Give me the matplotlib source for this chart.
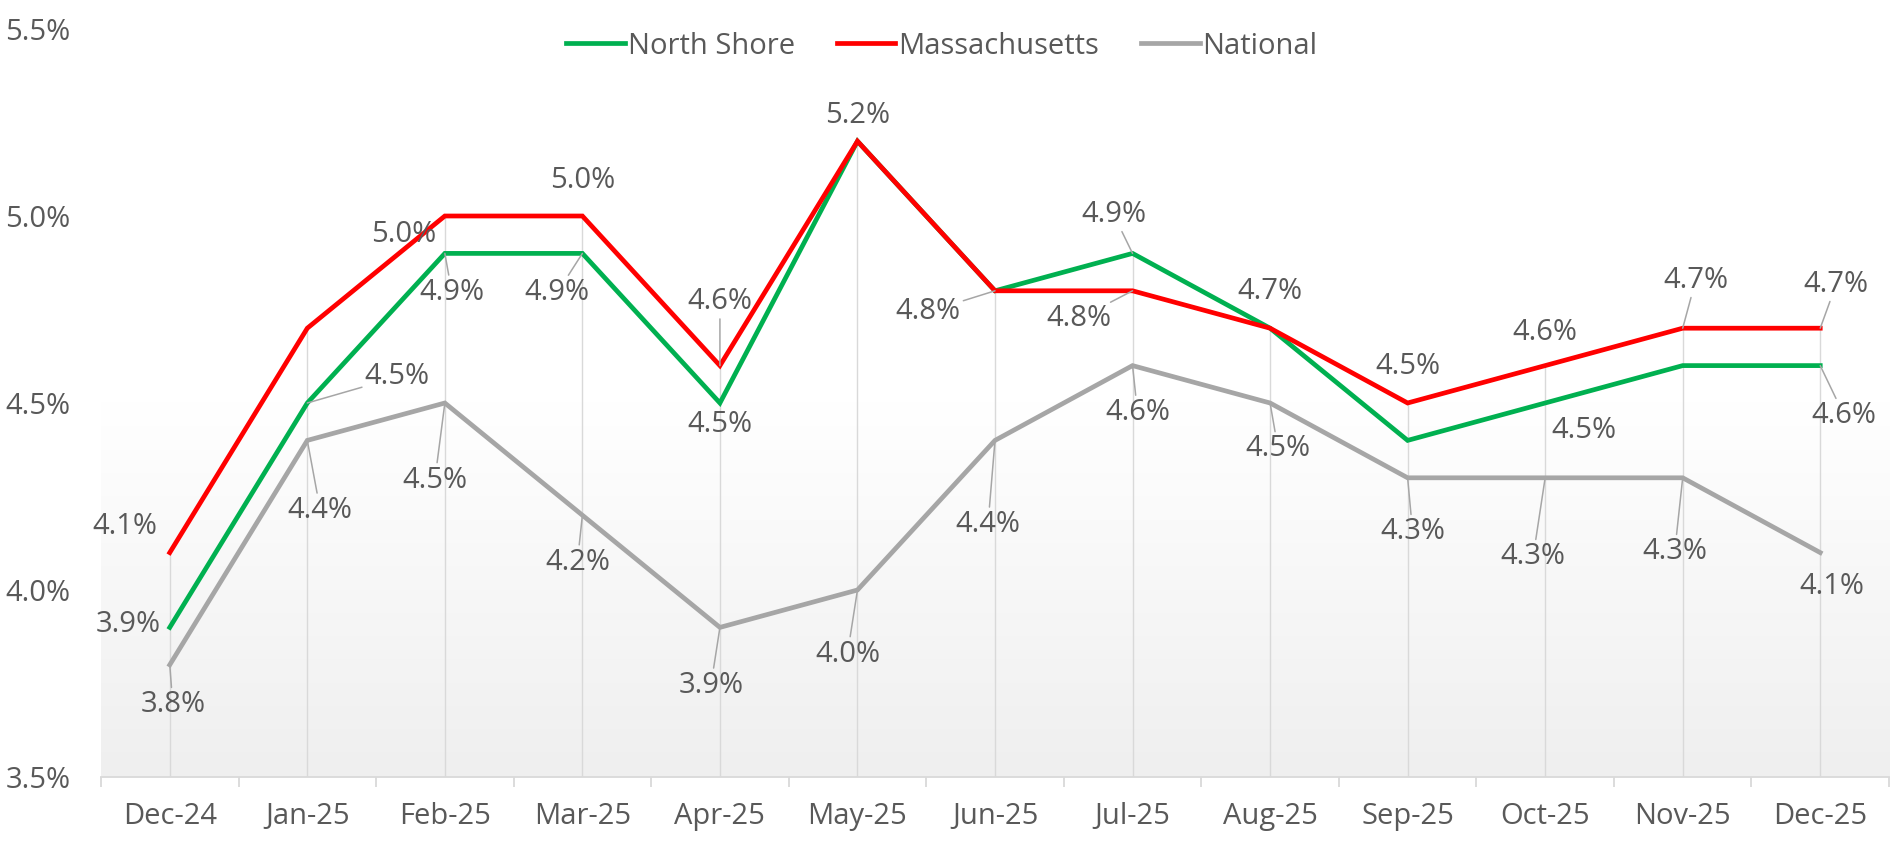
import numpy as np
import matplotlib
matplotlib.use("Agg")
import matplotlib.pyplot as plt
from matplotlib.colors import LinearSegmentedColormap

plt.rcParams['font.family'] = ['Open Sans', 'DejaVu Sans']

# data
months = ['Dec-24', 'Jan-25', 'Feb-25', 'Mar-25', 'Apr-25', 'May-25', 'Jun-25',
          'Jul-25', 'Aug-25', 'Sep-25', 'Oct-25', 'Nov-25', 'Dec-25']
north_shore = [3.9, 4.5, 4.9, 4.9, 4.5, 5.2, 4.8, 4.9, 4.7, 4.4, 4.5, 4.6, 4.6]
massachusetts = [4.1, 4.7, 5.0, 5.0, 4.6, 5.2, 4.8, 4.8, 4.7, 4.5, 4.6, 4.7, 4.7]
national = [3.8, 4.4, 4.5, 4.2, 3.9, 4.0, 4.4, 4.6, 4.5, 4.3, 4.3, 4.3, 4.1]

# label placement (offset in pixels, leader line) per point index
ns_labels = {0: (-42, 3, False), 1: (90, 26, True), 2: (7, -39, True), 3: (-25, -39, True),
             4: (0, -22, False), 6: (-67, -21, True), 7: (-19, 39, True),
             10: (39, -28, False), 12: (24, -50, True)}
ma_labels = {0: (-45, 26, False), 2: (-41, -18, False), 3: (0, 36, False), 4: (0, 64, True),
             5: (0, 26, False), 7: (-54, -28, True), 8: (0, 37, False), 9: (0, 36, False),
             10: (0, 33, False), 11: (13, 48, True), 12: (16, 44, True)}
nat_labels = {0: (3, -40, True), 1: (13, -70, True), 2: (-10, -77, True), 3: (-5, -47, True),
              4: (-9, -58, True), 5: (-10, -64, True), 6: (-7, -84, True), 7: (5, -47, True),
              8: (8, -46, True), 9: (5, -54, True), 10: (-12, -79, True), 11: (-8, -74, True),
              12: (12, -34, False)}

text_color = '#595959'
fs = 21

fig = plt.figure(figsize=(18.92, 8.43), dpi=100)
ax = fig.add_axes([101 / 1892, 1 - 777 / 843, (1889 - 101) / 1892, (777 - 29) / 843])

x = np.arange(len(months))
ax.set_xlim(-0.5, len(months) - 0.5)
ax.set_ylim(3.5, 5.5)

# gradient background, white at top
cmap = LinearSegmentedColormap.from_list('bg', ['#ffffff', '#ffffff', '#efefef'])
grad = np.linspace(0, 1, 256).reshape(-1, 1)
ax.imshow(grad, extent=[0, 1, 0, 1], origin='upper', transform=ax.transAxes,
          aspect='auto', cmap=cmap, zorder=0)

# drop lines
tops = np.maximum.reduce([north_shore, massachusetts, national])
ax.vlines(x, 3.5, tops, color='#d9d9d9', lw=1.0, zorder=1)

series = [('North Shore', north_shore, '#00b050', ns_labels),
          ('Massachusetts', massachusetts, '#ff0000', ma_labels),
          ('National', national, '#a6a6a6', nat_labels)]
for name, vals, col, labs in series:
    ax.plot(x, vals, color=col, lw=3.4, label=name, zorder=3, solid_joinstyle='miter')

for name, vals, col, labs in reversed(series):
    for i, (dx, dy, leader) in labs.items():
        arrow = dict(arrowstyle='-', color='#a6a6a6', lw=1.1, shrinkA=1, shrinkB=0) if leader else None
        ax.annotate(f'{vals[i]:.1f}%', xy=(x[i], vals[i]), xytext=(dx, dy),
                    textcoords='offset pixels', ha='center', va='center',
                    fontsize=fs, color=text_color, zorder=4,
                    bbox=dict(boxstyle='square,pad=0.05', fc='none', ec='none'),
                    arrowprops=arrow)

# axes styling
for s in ['top', 'right', 'left']:
    ax.spines[s].set_visible(False)
ax.spines['bottom'].set_color('#d9d9d9')
ax.spines['bottom'].set_linewidth(1.3)

ax.set_xticks(x)
ax.set_xticklabels(months)
ax.set_xticks(np.arange(-0.5, len(months)), minor=True)
ax.tick_params(axis='x', which='major', length=0, pad=18, labelsize=fs, labelcolor=text_color)
ax.tick_params(axis='x', which='minor', length=7.5, width=1.3, color='#d9d9d9')

yt = [3.5, 4.0, 4.5, 5.0, 5.5]
ax.set_yticks(yt)
ax.set_yticklabels([f'{v:.1f}%' for v in yt])
ax.tick_params(axis='y', length=0, pad=22, labelsize=fs, labelcolor=text_color)

fig.legend(loc='center', bbox_to_anchor=(942 / 1892, 1 - 46 / 843), ncol=3, frameon=False,
           fontsize=fs, labelcolor=text_color, handlelength=2.0, handletextpad=0.1,
           columnspacing=1.45)

fig.savefig('out.png', dpi=100)
